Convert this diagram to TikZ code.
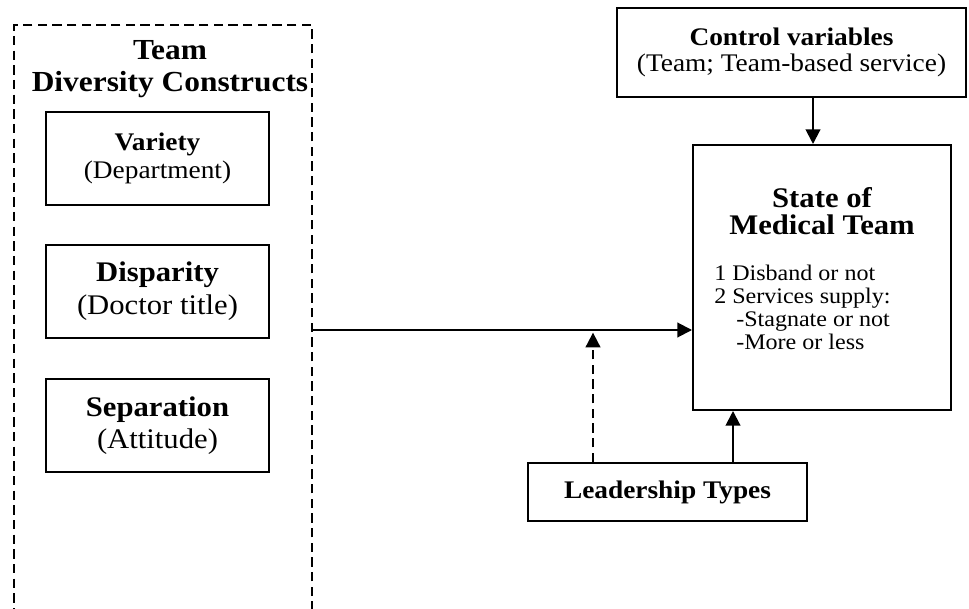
\documentclass[tikz,border=0pt]{standalone}
\usepackage{fontspec}
\setmainfont[FakeStretch=1.08]{Liberation Serif}
\usetikzlibrary{arrows.meta,positioning}

\tikzset{
  box/.style={draw, line width=1.5pt, align=center, inner sep=0pt},
  link/.style={line width=1.5pt, -{Triangle[length=11pt,width=11pt]}},
  dashlink/.style={link, dash pattern=on 7pt off 4pt},
}

\begin{document}
\begin{tikzpicture}[x=0.75pt,y=-0.75pt]
      \useasboundingbox (0,0) rectangle (969,609);
      % diversity constructs
      \node[box, dash pattern=on 7pt off 4pt, minimum width=223.5pt, minimum height=468.75pt] (diversity) at (163,337.5) {};
      \node[align=center, font=\fontsize{21.8}{24}\selectfont\bfseries] (divtitle) at (170,69) {Team\\Diversity Constructs};
      \node[box, minimum width=167.25pt, minimum height=69.75pt, font=\fontsize{19}{21}\selectfont] (variety) at (157.5,158.5) {\textbf{Variety}\\(Department)};
      \node[box, minimum width=167.25pt, minimum height=69.75pt, font=\fontsize{21.3}{24.5}\selectfont] (disparity) at (157.5,291.5) {\textbf{Disparity}\\(Doctor title)};
      \node[box, minimum width=167.25pt, minimum height=69.75pt, font=\fontsize{21.3}{24}\selectfont] (separation) at (157.5,425.5) {\textbf{Separation}\\(Attitude)};
      % right side
      \node[box, minimum width=261.75pt, minimum height=66.75pt, font=\fontsize{19}{20}\selectfont] (control) at (791.5,52.5) {\textbf{Control variables}\\(Team; Team-based service)};
      \node[box, minimum width=193.5pt, minimum height=198.75pt] (state) at (822,277.5) {};
      \node[align=center, font=\fontsize{21.3}{20.5}\selectfont\bfseries] (statetitle) at (822,211) {State of\\Medical Team};
      \node[align=left, anchor=north west, inner sep=0pt, font=\fontsize{16.7}{17.25}\selectfont] (statelist) at (714,265) {1 Disband or not\\2 Services supply:\\\hspace{16.5pt}-Stagnate or not\\\hspace{16.5pt}-More or less};
      \node[box, minimum width=209.25pt, minimum height=43.5pt, font=\fontsize{19}{20}\selectfont\bfseries] (leader) at (667.5,492) {Leadership Types};
      % connectors
      \coordinate (mid) at (593,330);
      \coordinate (cv) at (813,0);
      \coordinate (lt) at (733,0);
      \draw[link] (diversity.east |- mid) -- (state.west |- mid);
      \draw[dashlink] (mid |- leader.north) -- ([yshift=-2pt]mid);
      \draw[link] (cv |- control.south) -- (cv |- state.north);
      \draw[link] (lt |- leader.north) -- (lt |- state.south);
\end{tikzpicture}
\end{document}
